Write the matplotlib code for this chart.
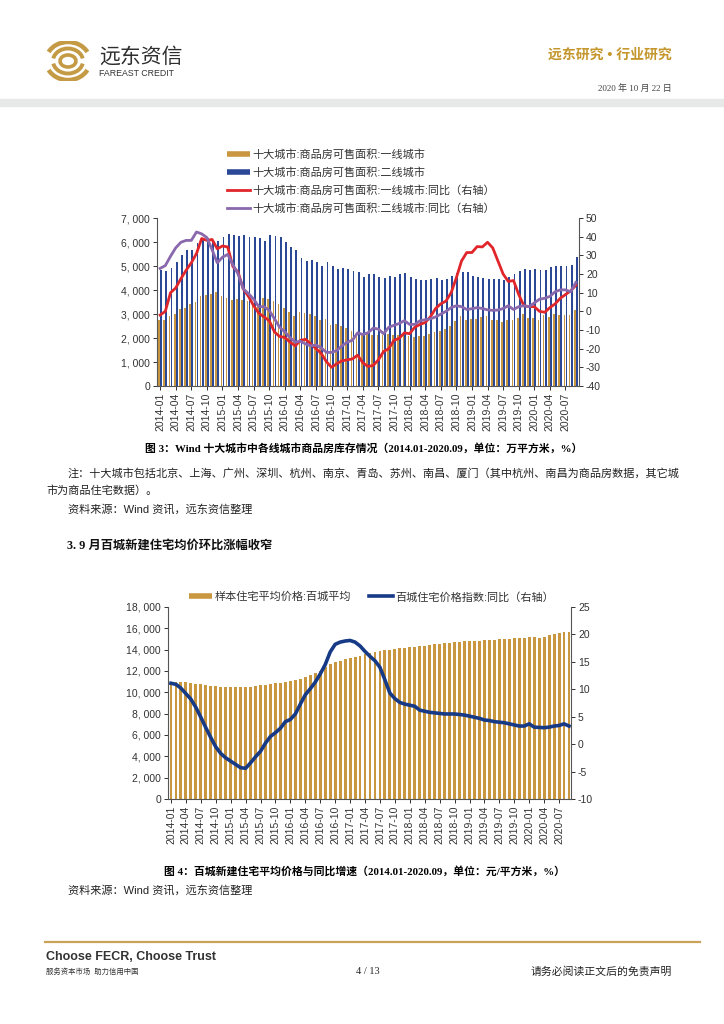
import numpy as np
import matplotlib
matplotlib.use("Agg")
import matplotlib.pyplot as plt
from matplotlib.lines import Line2D
from matplotlib.patches import Rectangle, Arc

plt.rcParams['font.family'] = ['Liberation Sans', 'Noto Sans CJK SC']
plt.rcParams['axes.unicode_minus'] = False

W, H = 724, 1024
GOLD = '#C9973F'
NAVY = '#2a4896'
RED = '#e0262b'
PURPLE = '#8a68ad'
BLUE2 = '#173a86'
SERIF = ['Liberation Serif', 'Noto Sans CJK SC']

# x tick labels (every 3rd month, 2014-01 .. 2020-09)
tick_labels = ["2014-01", "2014-04", "2014-07", "2014-10", "2015-01", "2015-04", "2015-07",
               "2015-10", "2016-01", "2016-04", "2016-07", "2016-10", "2017-01", "2017-04",
               "2017-07", "2017-10", "2018-01", "2018-04", "2018-07", "2018-10", "2019-01",
               "2019-04", "2019-07", "2019-10", "2020-01", "2020-04", "2020-07"]

# chart 1: inventory area (10k sqm) and yoy (%)
tier1_area = [2760, 2730, 2900, 3000, 3200, 3270, 3400, 3480, 3760, 3780, 3850, 3900, 3760,
              3680, 3600, 3620, 3600, 3560, 3500, 3420, 3650, 3640, 3550, 3400, 3250, 3100,
              2900, 3100, 3050, 3000, 2900, 2750, 2800, 2550, 2570, 2480, 2400, 2300, 2200,
              2150, 2150, 2140, 2110, 2140, 2150, 2110, 2140, 2150, 2070, 2040, 2070, 2070,
              2180, 2250, 2290, 2360, 2480, 2700, 2900, 2760, 2800, 2800, 2870, 2900, 2760,
              2730, 2660, 2730, 2760, 2840, 2980, 2840, 2840, 2760, 2940, 2870, 2980, 2940,
              2940, 2940, 3150]
tier2_area = [4850, 4800, 4900, 5150, 5450, 5650, 5680, 5950, 6100, 6150, 6050, 6050, 6200,
              6350, 6300, 6250, 6300, 6200, 6200, 6150, 6050, 6280, 6250, 6200, 5980, 5800,
              5650, 5350, 5200, 5250, 5150, 4980, 5150, 5000, 4880, 4900, 4880, 4780, 4750,
              4560, 4670, 4670, 4530, 4510, 4600, 4530, 4650, 4700, 4530, 4470, 4420, 4420,
              4470, 4490, 4400, 4470, 4600, 4700, 4740, 4740, 4600, 4560, 4510, 4470, 4470,
              4470, 4420, 4560, 4650, 4810, 4880, 4840, 4880, 4840, 4840, 4950, 5020, 5020,
              5020, 5060, 5370]
tier1_yoy = [-2, 0, 10, 12.5, 17.5, 22, 26, 31, 39, 38, 38.5, 33.5, 35, 34.5, 24, 21, 12, 8,
             3, -1, -3, -5, -11, -13.5, -14, -16.5, -18.5, -15.5, -15, -17.5, -20, -22.5, -27,
             -30, -28, -26.5, -26, -25.5, -23.5, -27.5, -29.5, -29, -26, -21.5, -20, -15.5,
             -14.5, -11.5, -12, -8.5, -7, -6, -3, 1.5, 4, 5.5, 10, 18, 27, 31.5, 31.5, 34.7,
             34.5, 37, 34, 27, 20, 16, 16.5, 9, 3, 2.5, 2.5, 0, -0.5, 2, 4, 7, 9, 11, 14]
tier2_yoy = [23, 24.5, 29.5, 34, 37, 38, 38, 42.5, 41.5, 39.5, 33, 26, 29, 30.5, 25, 20, 12,
             9.5, 6.5, 2.5, 2.5, 0.5, -4, -8.5, -11, -14, -16.5, -16, -17.5, -18.5, -18,
             -19.5, -22, -22, -21, -18.5, -16.5, -15.5, -11.5, -12.4, -11.5, -9, -9.5, -12,
             -8.5, -7.5, -6.5, -5, -7, -7, -5, -4.5, -4, -3, -1.5, 0, 2, 3, 2.5, 1, 1.4, 2,
             1.5, 0.8, 0.5, 0.7, 1.5, 3, 1, 2.5, 3, 2.5, 4.5, 6.5, 7, 8, 10.5, 11.5, 11.5,
             10.5, 15.5]

# chart 2: average price (yuan/sqm) and index yoy (%)
avg_price = [11000, 11000, 10980, 10950, 10900, 10800, 10750, 10700, 10620, 10550, 10520,
             10480, 10470, 10460, 10460, 10470, 10520, 10600, 10650, 10700, 10780, 10830,
             10880, 10950, 11040, 11150, 11260, 11410, 11600, 11790, 12040, 12350, 12660,
             12880, 12980, 13100, 13230, 13350, 13450, 13560, 13660, 13760, 13850, 13930,
             14000, 14080, 14130, 14180, 14240, 14290, 14340, 14390, 14440, 14500, 14550,
             14600, 14650, 14700, 14730, 14770, 14800, 14820, 14840, 14860, 14890, 14920,
             14960, 14990, 15020, 15050, 15080, 15110, 15150, 15160, 15120, 15180, 15330,
             15430, 15550, 15610, 15620]
index_yoy = [11.1, 10.9, 10.2, 9.2, 8.2, 6.7, 4.9, 3.0, 1.2, -0.5, -1.7, -2.5, -3.1, -3.7,
             -4.3, -4.4, -3.4, -2.3, -1.3, 0.2, 1.4, 2.1, 2.9, 4.1, 4.5, 5.5, 7.3, 9.0, 10.1,
             11.3, 12.8, 14.5, 16.8, 18.2, 18.6, 18.8, 18.9, 18.6, 17.9, 16.9, 16.0, 15.2,
             14.0, 11.7, 9.3, 8.3, 7.6, 7.3, 7.1, 6.9, 6.2, 6.0, 5.8, 5.7, 5.6, 5.5, 5.5, 5.5,
             5.4, 5.3, 5.1, 4.9, 4.7, 4.4, 4.3, 4.1, 4.0, 3.9, 3.7, 3.5, 3.3, 3.3, 3.7, 3.1,
             3.05, 3.0, 3.1, 3.3, 3.4, 3.7, 3.3]


def fpos(x0, y0, x1, y1):
    return [x0 / W, 1 - y1 / H, (x1 - x0) / W, (y1 - y0) / H]


def ftxt(x, y, s, **kw):
    fig.text(x / W, 1 - y / H, s, **kw)


def style_axes(ax, axr):
    for a in (ax, axr):
        a.spines['top'].set_visible(False)
        a.tick_params(labelsize=7.5, length=3, width=0.7, colors='#333333', pad=2)
    ax.spines['right'].set_visible(False)
    axr.spines['left'].set_visible(False)
    axr.spines['bottom'].set_visible(False)
    for sp in ('left', 'bottom'):
        ax.spines[sp].set_color('#555555')
        ax.spines[sp].set_linewidth(0.8)
    axr.spines['right'].set_color('#555555')
    axr.spines['right'].set_linewidth(0.8)
    ax.set_xticks(range(0, 81, 3))
    ax.set_xticklabels(tick_labels, rotation=90)


def thousands(v):
    return f"{v:,}".replace(",", ", ")


fig = plt.figure(figsize=(W / 100, H / 100), dpi=100)

# ---- header ----
lax = fig.add_axes(fpos(44, 41, 92, 81))
lax.set_xlim(-1.2, 1.2)
lax.set_ylim(-1.0, 1.0)
lax.set_aspect('equal')
lax.axis('off')
for w, h, t1, t2, lw in [(2.2, 1.9, 25, 155, 3.2), (2.2, 1.9, 205, 335, 3.2),
                         (1.5, 1.25, 10, 170, 2.8), (1.5, 1.25, 190, 350, 2.8),
                         (0.8, 0.6, 0, 180, 2.6), (0.8, 0.6, 180, 360, 2.6)]:
    lax.add_patch(Arc((0, 0), w, h, theta1=t1, theta2=t2, color='#C49A45', lw=lw))
ftxt(99, 57, "远东资信", fontsize=15, color='#2e2e2e', va='center', ha='left')
ftxt(99, 74, "FAREAST CREDIT", fontsize=6.3, color='#333333', va='center', ha='left')
ftxt(672, 55, "远东研究 • 行业研究", fontsize=10, color='#C4962C', fontweight='bold',
     va='center', ha='right')
ftxt(672, 88, "2020 年 10 月 22 日", fontsize=6.5, color='#444444', va='center', ha='right',
     family=SERIF)
fig.patches.append(Rectangle((0, 1 - 106 / H), 1, 7 / H, transform=fig.transFigure,
                             color='#e7e9e9', zorder=0))

# ---- chart 1 ----
x = np.arange(len(tier1_area))
ax1 = fig.add_axes(fpos(157, 218, 579, 386))
ax1.bar(x - 0.2, tier1_area, width=0.32, color=GOLD, linewidth=0)
ax1.bar(x + 0.2, tier2_area, width=0.36, color=NAVY, linewidth=0)
ax1.set_xlim(-0.6, 80.6)
ax1.set_ylim(0, 7000)
ax1.set_yticks(range(0, 7001, 1000))
ax1.set_yticklabels([thousands(v) for v in range(0, 7001, 1000)])
ax1r = ax1.twinx()
ax1r.plot(x, tier1_yoy, color=RED, lw=2.0)
ax1r.plot(x, tier2_yoy, color=PURPLE, lw=2.0)
ax1r.set_ylim(-40, 50)
ax1r.set_yticks(range(-40, 51, 10))
style_axes(ax1, ax1r)

h1 = [Line2D([], [], color=GOLD, lw=4, solid_capstyle='butt'),
      Line2D([], [], color=NAVY, lw=4, solid_capstyle='butt'),
      Line2D([], [], color=RED, lw=2),
      Line2D([], [], color=PURPLE, lw=2)]
l1 = ["十大城市:商品房可售面积:一线城市",
      "十大城市:商品房可售面积:二线城市",
      "十大城市:商品房可售面积:一线城市:同比（右轴）",
      "十大城市:商品房可售面积:二线城市:同比（右轴）"]
fig.legend(h1, l1, loc='upper left', bbox_to_anchor=(227 / W, 1 - 149 / H), frameon=False,
           fontsize=8, handlelength=2.1, handletextpad=0.2, labelspacing=0.66,
           borderpad=0, borderaxespad=0, labelcolor='#333333')

ftxt(364, 448, "图 3：Wind 十大城市中各线城市商品房库存情况（2014.01-2020.09，单位：万平方米，%）",
     fontsize=7.8, fontweight='bold', ha='center', va='center', family=SERIF)
ftxt(68, 473, "注：十大城市包括北京、上海、广州、深圳、杭州、南京、青岛、苏州、南昌、厦门（其中杭州、南昌为商品房数据，其它城",
     fontsize=8, ha='left', va='center', color='#222222')
ftxt(46, 491, "市为商品住宅数据）。", fontsize=8, ha='left', va='center', color='#222222')
ftxt(68, 509, "资料来源：Wind 资讯，远东资信整理", fontsize=8, ha='left', va='center',
     color='#222222')
ftxt(67, 546, "3. 9 月百城新建住宅均价环比涨幅收窄", fontsize=8.8, fontweight='bold',
     ha='left', va='center', color='#111111', family=SERIF)

# ---- chart 2 ----
ax2 = fig.add_axes(fpos(168, 607, 571, 799))
ax2.bar(x, avg_price, width=0.58, color=GOLD, linewidth=0)
ax2.set_xlim(-0.6, 80.4)
ax2.set_ylim(0, 18000)
ax2.set_yticks(range(0, 18001, 2000))
ax2.set_yticklabels([thousands(v) for v in range(0, 18001, 2000)])
ax2r = ax2.twinx()
ax2r.plot(x, index_yoy, color=BLUE2, lw=2.6)
ax2r.set_ylim(-10, 25)
ax2r.set_yticks(range(-10, 26, 5))
style_axes(ax2, ax2r)

h2 = [Line2D([], [], color=GOLD, lw=4, solid_capstyle='butt'),
      Line2D([], [], color=BLUE2, lw=2.6)]
l2 = ["样本住宅平均价格:百城平均", "百城住宅价格指数:同比（右轴）"]
fig.legend(h2, l2, loc='center left', bbox_to_anchor=(189 / W, 1 - 597 / H), frameon=False,
           ncol=2, fontsize=8, handlelength=2.1, handletextpad=0.25, columnspacing=1.6,
           borderpad=0, borderaxespad=0, labelcolor='#333333')

ftxt(364, 871, "图 4：百城新建住宅平均价格与同比增速（2014.01-2020.09，单位：元/平方米，%）",
     fontsize=7.8, fontweight='bold', ha='center', va='center', family=SERIF)
ftxt(68, 890, "资料来源：Wind 资讯，远东资信整理", fontsize=8, ha='left', va='center',
     color='#222222')

# ---- footer ----
fig.add_artist(Line2D([45 / W, 700 / W], [1 - 942 / H, 1 - 942 / H], color='#C9A25A', lw=1.6))
ftxt(46, 957, "Choose FECR, Choose Trust", fontsize=9, fontweight='bold', ha='left',
     va='center', color='#333333')
ftxt(46, 972, "服务资本市场  助力信用中国", fontsize=5.3, ha='left', va='center',
     color='#333333')
ftxt(368, 971, "4 / 13", fontsize=7.5, ha='center', va='center', family=SERIF,
     color='#222222')
ftxt(672, 971, "请务必阅读正文后的免责声明", fontsize=7.8, ha='right', va='center',
     color='#222222')

fig.savefig("out.png", dpi=100)
